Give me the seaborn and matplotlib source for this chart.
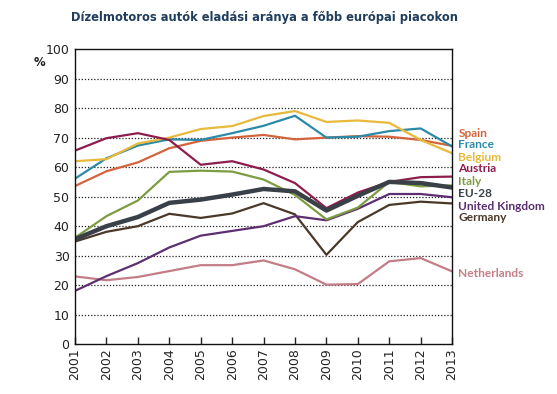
import numpy as np
import pandas as pd
import matplotlib
matplotlib.use("Agg")
import matplotlib.pyplot as plt
import seaborn as sns

years = list(range(2001, 2014))

spain       = [53.6, 58.6, 61.6, 66.4, 68.9, 70.0, 70.9, 69.4, 70.0, 70.5, 70.3, 69.2, 67.2]
france      = [56.1, 63.0, 67.3, 69.4, 69.2, 71.5, 74.0, 77.4, 70.0, 70.3, 72.2, 73.1, 67.0]
belgium     = [62.0, 62.7, 68.0, 70.0, 72.9, 73.9, 77.3, 79.0, 75.3, 75.8, 75.0, 69.2, 64.7]
austria     = [65.6, 69.8, 71.5, 69.2, 60.8, 62.0, 59.2, 54.6, 46.1, 51.4, 55.0, 56.6, 56.8]
italy       = [36.1, 43.4, 48.7, 58.4, 58.8, 58.5, 55.8, 50.6, 42.3, 46.3, 55.0, 53.5, 53.8]
eu28        = [35.6, 40.0, 43.1, 47.9, 49.0, 50.7, 52.6, 51.8, 45.3, 50.3, 55.0, 54.6, 53.1]
uk          = [18.1, 23.1, 27.5, 32.8, 36.8, 38.4, 40.0, 43.4, 42.0, 45.9, 50.9, 50.9, 49.8]
germany     = [34.8, 38.1, 40.0, 44.2, 42.8, 44.3, 47.8, 44.0, 30.3, 41.4, 47.2, 48.3, 47.7]
netherlands = [23.0, 21.7, 22.8, 24.8, 26.8, 26.8, 28.4, 25.4, 20.2, 20.4, 28.1, 29.2, 24.7]

countries = ["Spain", "France", "Belgium", "Austria", "Italy", "EU-28",
             "United Kingdom", "Germany", "Netherlands"]
values = [spain, france, belgium, austria, italy, eu28, uk, germany, netherlands]

colors = {
    "Spain": "#d4643c",
    "France": "#2a8aa8",
    "Belgium": "#e8b93a",
    "Austria": "#8c1d4d",
    "Italy": "#7d9c42",
    "EU-28": "#3a4048",
    "United Kingdom": "#5e2f70",
    "Germany": "#4a3828",
    "Netherlands": "#c47d86",
}
label_y = [71.5, 67.5, 63.4, 59.4, 55.3, 51.2, 46.8, 42.8, 24.1]

title = "Dízelmotoros autók eladási aránya a főbb európai piacokon"

rows = []
for c, v in zip(countries, values):
    for y, val in zip(years, v):
        rows.append({"year": y, "country": c, "share": val})
df = pd.DataFrame(rows)

sns.set_theme(style="white")
plt.rcParams["font.family"] = ["DejaVu Sans"]

fig = plt.figure(figsize=(5.57, 3.94), dpi=100)
ax = fig.add_axes([0.1347, 0.1261, 0.677, 0.7495])

draw_order = ["Netherlands", "Germany", "United Kingdom", "Italy", "Spain",
              "France", "Belgium", "Austria", "EU-28"]
for c in draw_order:
    sub = df[df["country"] == c]
    sns.lineplot(data=sub, x="year", y="share", ax=ax, color=colors[c],
                 linewidth=3.2 if c == "EU-28" else 1.6, legend=False)

ax.set_xlim(2001, 2013)
ax.set_ylim(0, 100)
ax.set_xticks(years)
ax.set_xticklabels([str(y) for y in years], rotation=90, fontsize=9, color="#222222")
ax.set_yticks(range(0, 101, 10))
ax.set_yticklabels([str(t) for t in range(0, 101, 10)], fontsize=9, color="#222222")
ax.set_xlabel("")
ax.set_ylabel("")
for yv in range(10, 100, 10):
    ax.axhline(yv, color="#222222", linestyle=(0, (1, 1.5)), linewidth=0.9, zorder=0)
for s in ax.spines.values():
    s.set_color("#111111")
    s.set_linewidth(1.0)
ax.tick_params(axis="x", direction="in", length=5, width=1, color="#222222", bottom=True, pad=3)
ax.tick_params(axis="y", length=0, pad=4)

ax.text(-0.093, 0.956, "%", transform=ax.transAxes, fontsize=8.5, fontweight="bold",
        color="#222222", ha="center", va="center")

for c, ly in zip(countries, label_y):
    ax.text(2013.2, ly, c, color=colors[c], fontsize=8.6, fontweight="bold",
            family=["Lato", "DejaVu Sans"], ha="left", va="center", clip_on=False)

fig.text(0.4750, 0.955, title, ha="center", va="center", fontsize=8.3,
         fontweight="bold", color="#1f3d5c")

fig.savefig("out.png", dpi=100)
